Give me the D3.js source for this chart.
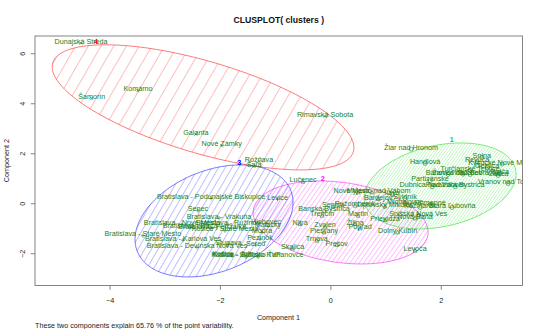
<!DOCTYPE html>
<html><head><meta charset="utf-8">
<script src="https://cdn.jsdelivr.net/npm/d3@7"></script>
<style>
body{margin:0;background:#fff}
text{font-family:"Liberation Sans",Arial,Helvetica,sans-serif}
</style></head>
<body>
<svg id="chart" width="540" height="329"></svg>
<script>
// ---------- data ----------
const xTicks = [-4, -2, 0, 2];
const yTicks = [-2, 0, 2, 4, 6];

const clusterIds = [1, 2, 3, 4];
const clusterColors = ["#00dd00", "#ff00ff", "#0000ff", "#ff0000"];
const clusterLabelX = [2.199, -0.138, -1.649, -4.245];
const clusterLabelY = [2.46, 0.90, 1.564, 6.404];

// ellipse centre and spread (component units)
const ellipseCx  = [1.987, 0.185, -2.107, -2.306];
const ellipseCy  = [0.692, -0.768, -0.708, 3.836];
const ellipseSxx = [1.896, 2.513, 2.048, 7.467];
const ellipseSyy = [2.958, 2.756, 5.018, 6.261];
const ellipseSxy = [0.65, -0.617, 1.055, -4.413];

const pointNames = [
 "Dunajská Streda","Šamorín","Komárno","Galanta","Nové Zámky","Rimavská Sobota","Rožňava","Šaľa",
 "Bratislava - Podunajské Biskupice","Senec","Bratislava - Vrakuňa","Bratislava - Nové Mesto","Bratislava - Ružinov",
 "Bratislava - Petržalka","Košice - Staré Mesto","Bratislava - Staré Mesto","Bratislava - Karlova Ves","Stupava",
 "Bratislava - Devínska Nová Ves","Sereď","Pezinok","Košice - Juh","Košice - Sídlisko KVP","Košice - Sídlisko Ťahanovce",
 "Levice","Malacky","Bratislava - Rača","Hlohovec","Modra",
 "Lučenec","Banská Bystrica","Trenčín","Martin","Žilina","Prievidza","Dolný Kubín","Levoča","Skalica","Trnava",
 "Prešov","Piešťany","Poprad","Senica","Nitra","Zvolen","Spišská Nová Ves","Nová Baňa","Myjava","Nové Mesto nad Váhom",
 "Bardejov","Ružomberok","Liptovský Mikuláš",
 "Žiar nad Hronom","Handlová","Snina","Revúca","Gelnica","Kysucké Nové Mesto","Turčianske Teplice","Bánovce nad Bebravou",
 "Žarnovica","Púchov","Bytča","Čadca","Partizánske","Vranov nad Topľou","Dubnica nad Váhom","Považská Bystrica",
 "Ilava","Svidník","Michalovce","Humenné","Kežmarok","Stará Ľubovňa"
];
const pointX = [
 -4.516,-4.322,-3.484,-2.437,-1.967,-0.096,-1.292,-1.382,
 -2.161,-2.397,-2.016,-2.687,-1.853,
 -2.143,-1.908,-3.397,-2.668,-1.848,
 -2.415,-1.351,-1.274,-1.781,-1.527,-1.310,
 -0.957,-1.129,-2.542,-1.165,-1.239,
 -0.495,-0.114,-0.150,0.502,0.447,0.991,1.217,1.534,-0.685,-0.246,
 0.116,-0.114,0.538,0.049,-0.549,-0.096,1.589,1.534,0.502,0.755,
 0.864,0.447,0.991,
 1.462,1.716,2.743,2.658,2.839,3.110,2.531,2.404,
 2.132,2.531,3.074,3.038,1.806,3.219,1.842,2.259,
 1.118,1.353,1.353,1.806,1.625,2.205
];
const pointY = [
 6.404,4.192,4.50,2.764,2.30,3.472,1.672,1.472,
 0.192,-0.30,-0.596,-0.86,-0.848,
 -1.008,-1.10,-1.30,-1.476,-1.636,
 -1.768,-1.676,-1.436,-2.108,-2.148,-2.148,
 0.164,-0.928,-0.968,-0.808,-1.168,
 0.86,-0.30,-0.50,-0.50,-0.836,-0.676,-1.168,-1.90,-1.808,-1.50,
 -1.676,-1.168,-1.008,-0.14,-0.836,-0.928,-0.488,-0.608,0.432,0.432,
 0.164,-0.10,-0.128,
 2.164,1.592,1.832,1.66,1.432,1.564,1.312,1.164,
 1.152,1.152,1.192,1.112,0.90,0.792,0.66,0.66,
 0.352,0.192,-0.008,-0.048,-0.168,-0.168
];
const pointCluster = [
 4,4,4,4,4,4,4,4,
 3,3,3,3,3,
 3,3,3,3,3,
 3,3,3,3,3,3,
 3,3,3,3,3,
 2,2,2,2,2,2,2,2,2,2,
 2,2,2,2,2,2,2,2,2,2,
 2,2,2,
 1,1,1,1,1,1,1,1,
 1,1,1,1,1,1,1,1,
 1,1,1,1,1,1
];

const hatchSpacing = [2.4, 3.8, 5.8, 11];
const hatchAngle   = [35, 35, 30, 30];

// ---------- drawing ----------
const svg = d3.select("#chart");
const box = {l: 35, r: 522.5, t: 36, b: 285.5};
const x = d3.scaleLinear().domain([-5.35, 3.48]).range([box.l, box.r]);
const y = d3.scaleLinear().domain([-3.29, 6.69]).range([box.b, box.t]);
const FS = 7.2;
const txtCol = "#1a7f1a";

const defs = svg.append("defs");
defs.append("clipPath").attr("id","plotclip").append("rect")
  .attr("x", box.l).attr("y", box.t).attr("width", box.r-box.l).attr("height", box.b-box.t);

clusterIds.forEach((id,i)=>{
  const s = hatchSpacing[i];
  const p = defs.append("pattern").attr("id","hatch"+id)
    .attr("patternUnits","userSpaceOnUse").attr("width", s).attr("height", 10)
    .attr("patternTransform", `rotate(${hatchAngle[i]})`);
  p.append("line").attr("x1", 0).attr("y1", 0).attr("x2", 0).attr("y2", 10)
    .attr("stroke", clusterColors[i]).attr("stroke-width", i===0 ? 0.5 : 0.6).attr("stroke-opacity", 0.85);
});

const plot = svg.append("g").attr("clip-path","url(#plotclip)");

// ellipses
const line = d3.line().x(d=>x(d[0])).y(d=>y(d[1])).curve(d3.curveLinearClosed);
clusterIds.forEach((id,i)=>{
  const l11 = Math.sqrt(ellipseSxx[i]);
  const l21 = ellipseSxy[i]/l11;
  const l22 = Math.sqrt(ellipseSyy[i]-l21*l21);
  const pts = d3.range(0, 200).map(k=>{
    const t = k/200*2*Math.PI;
    return [ellipseCx[i] + l11*Math.cos(t), ellipseCy[i] + l21*Math.cos(t) + l22*Math.sin(t)];
  });
  plot.append("path").attr("d", line(pts))
    .attr("fill", `url(#hatch${id})`)
    .attr("stroke", clusterColors[i]).attr("stroke-width", 0.7).attr("stroke-opacity", 0.75);
});

// markers
const mk = plot.append("g").attr("stroke", txtCol).attr("fill","none").attr("stroke-width",0.6);
pointNames.forEach((n,i)=>{
  const px = x(pointX[i]), py = y(pointY[i]), c = pointCluster[i], r = 2;
  if (c===1) mk.append("circle").attr("cx",px).attr("cy",py).attr("r",r);
  else if (c===2) mk.append("path").attr("d",`M${px},${py-r*1.1}L${px+r},${py+r*0.7}L${px-r},${py+r*0.7}Z`);
  else if (c===3) mk.append("path").attr("d",`M${px-r},${py}H${px+r}M${px},${py-r}V${py+r}`);
  else mk.append("path").attr("d",`M${px-r*0.8},${py-r*0.8}L${px+r*0.8},${py+r*0.8}M${px-r*0.8},${py+r*0.8}L${px+r*0.8},${py-r*0.8}`);
});

// labels
plot.append("g").selectAll("text").data(pointNames).join("text")
  .attr("x",(d,i)=>x(pointX[i])).attr("y",(d,i)=>y(pointY[i])+0.5)
  .attr("text-anchor","middle").attr("font-size",FS).attr("fill",txtCol)
  .text(d=>d);

// cluster numbers
plot.append("g").selectAll("text").data(clusterIds).join("text")
  .attr("x",(d,i)=>x(clusterLabelX[i])).attr("y",(d,i)=>y(clusterLabelY[i])+0.5)
  .attr("text-anchor","middle").attr("font-size",FS).attr("font-weight","bold")
  .attr("fill",(d,i)=>clusterColors[i]).text(d=>d);

// box
svg.append("rect").attr("x",box.l).attr("y",box.t).attr("width",box.r-box.l).attr("height",box.b-box.t)
  .attr("fill","none").attr("stroke","#777").attr("stroke-width",0.9);

// axes
const gx = svg.append("g").attr("transform",`translate(0,${box.b})`)
  .call(d3.axisBottom(x).tickValues(xTicks).tickSize(4.3).tickPadding(7.7).tickFormat(d3.format("d")));
gx.select(".domain").remove();
gx.selectAll("line").attr("stroke","#777").attr("stroke-width",0.9);
gx.selectAll("text").attr("font-size",FS).attr("fill","#222").attr("font-family",null);

const gy = svg.append("g").attr("transform",`translate(${box.l},0)`)
  .call(d3.axisLeft(y).tickValues(yTicks).tickSize(4.3).tickFormat(d3.format("d")));
gy.select(".domain").remove();
gy.selectAll("line").attr("stroke","#777").attr("stroke-width",0.9);
gy.selectAll("text").attr("x",0).attr("y",0).attr("dy",null)
  .attr("text-anchor","middle").attr("transform","translate(-10,0) rotate(-90)")
  .attr("font-size",FS).attr("fill","#222").attr("font-family",null);

// titles
svg.append("text").attr("x",278.75).attr("y",22.7).attr("text-anchor","middle")
  .attr("font-size",8.7).attr("font-weight","bold").attr("fill","#111").text("CLUSPLOT( clusters )");
svg.append("text").attr("x",278.5).attr("y",320.4).attr("text-anchor","middle")
  .attr("font-size",FS).attr("fill","#222").text("Component 1");
svg.append("text").attr("transform","translate(8.5,160.7) rotate(-90)").attr("text-anchor","middle")
  .attr("font-size",FS).attr("fill","#222").text("Component 2");
svg.append("text").attr("x",35).attr("y",327.6)
  .attr("font-size",FS).attr("fill","#222").text("These two components explain 65.76 % of the point variability.");
</script>
</body></html>
